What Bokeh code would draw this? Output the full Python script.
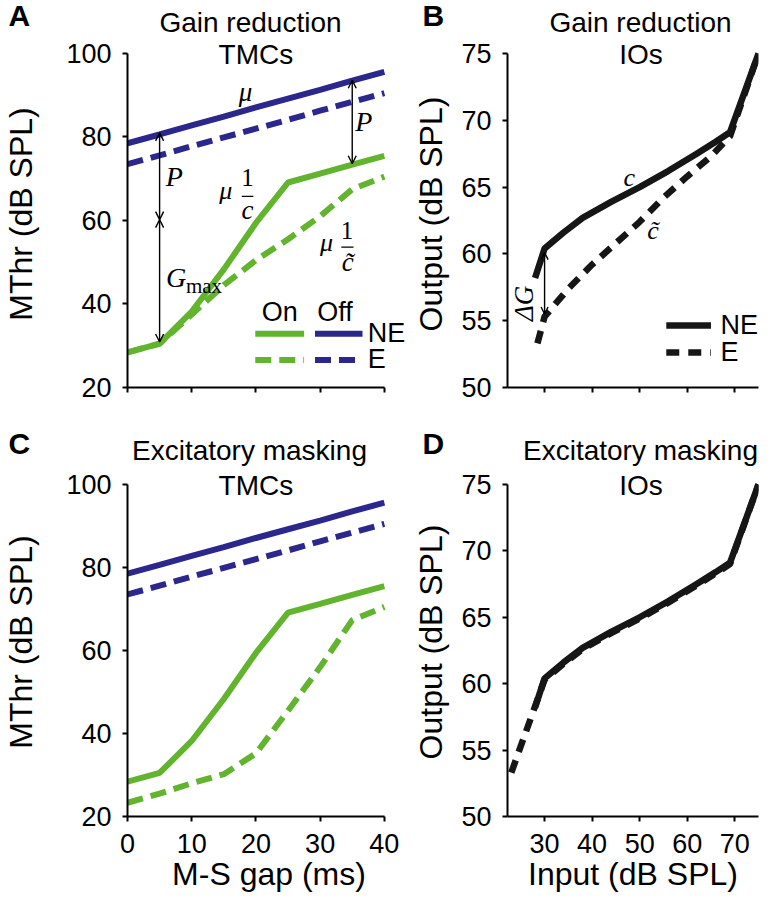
import math
from bokeh.plotting import figure
from bokeh.models import Range1d, FixedTicker, Label, Arrow, OpenHead
from bokeh.layouts import column, row
from bokeh.embed import file_html
from bokeh.resources import INLINE

# ---------------- data ----------------
gap_ms = [0, 5, 10, 15, 20, 25, 30, 35, 40]
off_ne = [78.5, 80.6, 82.8, 84.9, 87.1, 89.2, 91.3, 93.5, 95.6]
off_e = [73.5, 75.6, 77.8, 79.9, 82.0, 84.1, 86.3, 88.4, 90.5]
on_ne = [28.4, 30.5, 38.2, 48.3, 59.4, 69.1, 71.2, 73.4, 75.5]
on_e_gain = [28.4, 30.5, 37.5, 44.5, 50.5, 55.5, 61.0, 67.5, 70.5]
on_e_exc = [23.3, 25.5, 28.0, 30.2, 35.2, 45.5, 56.0, 67.3, 70.5]

io_in_ne = [28, 30, 34, 38, 44, 50, 56, 62, 66, 69, 75]
io_out_ne = [58.2, 60.4, 61.6, 62.7, 63.9, 65.0, 66.2, 67.5, 68.4, 69.1, 75.0]
io_in_e_gain = [28.5, 30, 35, 40, 45, 50, 55, 60, 65, 69, 75]
io_out_e_gain = [53.3, 55.3, 57.4, 59.2, 60.8, 62.4, 64.2, 65.8, 67.3, 68.8, 75.0]
io_in_e_exc = [23, 30, 34, 38, 44, 50, 56, 62, 66, 69, 75]
io_out_e_exc = [53.3, 60.3, 61.5, 62.6, 63.8, 64.9, 66.1, 67.4, 68.3, 69.0, 75.0]

tmc_xticks = [0, 10, 20, 30, 40]
tmc_yticks = [20, 40, 60, 80, 100]
io_xticks = [30, 40, 50, 60, 70]
io_yticks = [50, 55, 60, 65, 70, 75]

GREEN = "#62B42F"
BLUE = "#2B278C"
BLACK = "#161616"
SANS = "Liberation Sans"
SERIF = "Liberation Serif"
LW = 6
DASH = "16 8"
KDASH = "13 9"
RAISE = 0.4   # baseline correction, in em

SCALE = {}    # pixels per data unit (x, y) of each figure


def make_fig(w, h, xr, yr, xb, yb, bl, br, bt, bb, xticks, yticks, xlabel,
             ylabel, show_xlabels, ylab_stand):
    p = figure(width=w, height=h, x_range=Range1d(*xr), y_range=Range1d(*yr),
               output_backend="svg", toolbar_location=None, title_location=None,
               min_border_left=bl, min_border_right=br,
               min_border_top=bt, min_border_bottom=bb)
    SCALE[id(p)] = ((w - bl - br) / (xr[1] - xr[0]), (h - bt - bb) / (yr[1] - yr[0]))
    p.outline_line_color = None
    p.grid.visible = False
    p.xaxis.ticker = FixedTicker(ticks=xticks)
    p.yaxis.ticker = FixedTicker(ticks=yticks)
    p.xaxis.bounds = xb
    p.yaxis.bounds = yb
    for ax in (p.xaxis[0], p.yaxis[0]):
        ax.axis_line_width = 2
        ax.axis_line_color = "black"
        ax.major_tick_line_width = 2
        ax.major_tick_line_color = "black"
        ax.major_tick_out = 5
        ax.major_tick_in = 0
        ax.minor_tick_line_color = None
        ax.major_label_text_font = SANS
        ax.major_label_text_font_size = "27px"
        ax.major_label_text_color = "black"
        ax.major_label_standoff = 11
        ax.axis_label_text_font = SANS
        ax.axis_label_text_font_size = "32px"
        ax.axis_label_text_font_style = "normal"
        ax.axis_label_text_color = "black"
    p.yaxis.axis_label = ylabel
    p.yaxis.axis_label_standoff = ylab_stand
    if show_xlabels:
        p.xaxis.axis_label = xlabel
        p.xaxis.major_label_standoff = 12
        p.xaxis.axis_label_standoff = 0
    else:
        p.xaxis.major_label_overrides = {t: "" for t in xticks}
        p.xaxis.major_label_standoff = 0
    return p


def strip(h):
    s = figure(width=760, height=h, x_range=Range1d(0, 760), y_range=Range1d(0, h),
               x_axis_type=None, y_axis_type=None, output_backend="svg",
               toolbar_location=None, title_location=None, min_border=0,
               min_border_left=0, min_border_right=0, min_border_top=0,
               min_border_bottom=0)
    SCALE[id(s)] = (1.0, 1.0)
    s.outline_line_color = None
    s.grid.visible = False
    return s


def lab(p, x, y, text, size, font=SANS, style="normal", align="left", angle=0.0):
    sx, sy = SCALE[id(p)]
    d = RAISE * size
    if angle:
        x -= d / sx
    else:
        y += d / sy
    p.add_layout(Label(x=x, y=y, text=text, text_font=font,
                       text_font_size=f"{size}px", text_font_style=style,
                       text_align=align, text_baseline="alphabetic", angle=angle,
                       text_color="black"))


def slab(s, h, x, y_from_top, text, size, style="normal", align="left"):
    lab(s, x, h - y_from_top, text, size, style=style, align=align)


def darrow(p, x0, y0, x1, y1, size=8):
    p.add_layout(Arrow(start=OpenHead(size=size, line_width=1.4, line_color="black"),
                       end=OpenHead(size=size, line_width=1.4, line_color="black"),
                       x_start=x0, y_start=y0, x_end=x1, y_end=y1,
                       line_width=1.4, line_color="black"))


def seg(p, x0, y0, x1, y1, color, width, dash="solid"):
    p.add_layout(Arrow(start=None, end=None, x_start=x0, y_start=y0, x_end=x1,
                       y_end=y1, line_width=width, line_color=color, line_dash=dash))


def tmc_panel(h, ytop, bb, on_e, show_x):
    p = make_fig(410, h, (0, 44.075), (20, ytop), (0, 40), (20, 100), 118, 0, 0, bb,
                 tmc_xticks, tmc_yticks, "M-S gap (ms)", "MThr (dB SPL)", show_x, 24)
    p.line(gap_ms, off_ne, line_color=BLUE, line_width=LW)
    p.line(gap_ms, off_e, line_color=BLUE, line_width=LW, line_dash=DASH)
    p.line(gap_ms, on_e, line_color=GREEN, line_width=LW, line_dash=DASH)
    p.line(gap_ms, on_ne, line_color=GREEN, line_width=LW)
    return p


def io_panel(h, ytop, bb, e_in, e_out, show_x, e_on_top):
    p = make_fig(350, h, (22.2, 75), (50, ytop), (22.2, 75), (50, 75), 97, 2, 0, bb,
                 io_xticks, io_yticks, "Input (dB SPL)", "Output (dB SPL)", show_x, 9)
    if e_on_top:
        p.line(io_in_ne, io_out_ne, line_color=BLACK, line_width=LW + 0.5)
        p.line(e_in, e_out, line_color=BLACK, line_width=LW + 0.5, line_dash=KDASH)
    else:
        p.line(e_in, e_out, line_color=BLACK, line_width=LW + 0.5, line_dash=KDASH)
        p.line(io_in_ne, io_out_ne, line_color=BLACK, line_width=LW + 0.5)
    return p


# ---------------- header strips (panel letters and titles) ----------------
H1 = 40
s1 = strip(H1)
slab(s1, H1, 8, 26.5, "A", 30, style="bold")
slab(s1, H1, 250, 33, "Gain reduction", 28, align="center")
slab(s1, H1, 422, 26.5, "B", 30, style="bold")
slab(s1, H1, 640, 33, "Gain reduction", 28, align="center")

H2 = 42
s2 = strip(H2)
slab(s2, H2, 8, 30, "C", 30, style="bold")
slab(s2, H2, 249, 36, "Excitatory masking", 28, align="center")
slab(s2, H2, 422, 30, "D", 30, style="bold")
slab(s2, H2, 640, 36, "Excitatory masking", 28, align="center")

# ---------------- panel A ----------------
pA = tmc_panel(385, 103.11, 38, on_e_gain, False)
lab(pA, 20, 97.0, "TMCs", 28, align="center")
lab(pA, 18.4, 88.3, "μ", 27, font=SERIF, style="italic", align="center")
darrow(pA, 5, 81.0, 5, 60.2)
darrow(pA, 5, 60.2, 5, 30.9)
lab(pA, 7.3, 67.9, "P", 28, font=SERIF, style="italic", align="center")
lab(pA, 6.0, 43.7, "G", 28, font=SERIF, style="italic")
lab(pA, 9.1, 42.4, "max", 21, font=SERIF)
darrow(pA, 35, 93.6, 35, 73.6)
lab(pA, 36.8, 81.1, "P", 28, font=SERIF, style="italic", align="center")
lab(pA, 15.3, 64.6, "μ", 26, font=SERIF, style="italic", align="center")
lab(pA, 18.7, 68.0, "1", 25, font=SERIF, align="center")
seg(pA, 17.8, 65.8, 19.6, 65.8, "black", 1.2)
lab(pA, 18.7, 60.0, "c", 27, font=SERIF, style="italic", align="center")
lab(pA, 31.0, 52.2, "μ", 26, font=SERIF, style="italic", align="center")
lab(pA, 34.2, 55.3, "1", 25, font=SERIF, align="center")
seg(pA, 33.3, 53.6, 35.2, 53.6, "black", 1.2)
lab(pA, 34.3, 47.4, "c\u0303", 27, font=SERIF, style="italic", align="center")
lab(pA, 23.7, 35.6, "On", 27, align="center")
lab(pA, 32.3, 35.6, "Off", 27, align="center")
seg(pA, 19.9, 32.9, 27.5, 32.9, GREEN, LW)
seg(pA, 29.2, 32.9, 36.6, 32.9, BLUE, LW)
seg(pA, 19.9, 26.6, 27.5, 26.6, GREEN, LW, DASH)
seg(pA, 29.2, 26.6, 36.6, 26.6, BLUE, LW, DASH)
lab(pA, 37.4, 30.4, "NE", 27)
lab(pA, 37.4, 24.3, "E", 27)

# ---------------- panel B ----------------
pB = io_panel(385, 75.973, 38, io_in_e_gain, io_out_e_gain, False, False)
lab(pB, 50.3, 74.08, "IOs", 28, align="center")
lab(pB, 47.8, 64.95, "c", 26, font=SERIF, style="italic", align="center")
lab(pB, 52.8, 61.0, "c\u0303", 26, font=SERIF, style="italic", align="center")
darrow(pB, 30, 60.1, 30, 55.5, size=7)
lab(pB, 28.0, 56.3, "ΔG", 27, font=SERIF, style="italic", align="center",
    angle=math.pi / 2)
seg(pB, 55.6, 54.64, 65.0, 54.64, BLACK, LW + 0.5)
seg(pB, 55.6, 52.62, 65.0, 52.62, BLACK, LW + 0.5, KDASH)
lab(pB, 67.0, 53.9, "NE", 27)
lab(pB, 67.0, 51.87, "E", 27)

# ---------------- panel C ----------------
pC = tmc_panel(427, 104.08, 77, on_e_exc, True)
lab(pC, 20, 97.11, "TMCs", 28, align="center")

# ---------------- panel D ----------------
pD = io_panel(427, 76.276, 77, io_in_e_exc, io_out_e_exc, True, True)
lab(pD, 50.3, 74.1, "IOs", 28, align="center")

layout = column(s1, row(pA, pB), s2, row(pC, pD))
open("out.html", "w").write(file_html(layout, INLINE))
